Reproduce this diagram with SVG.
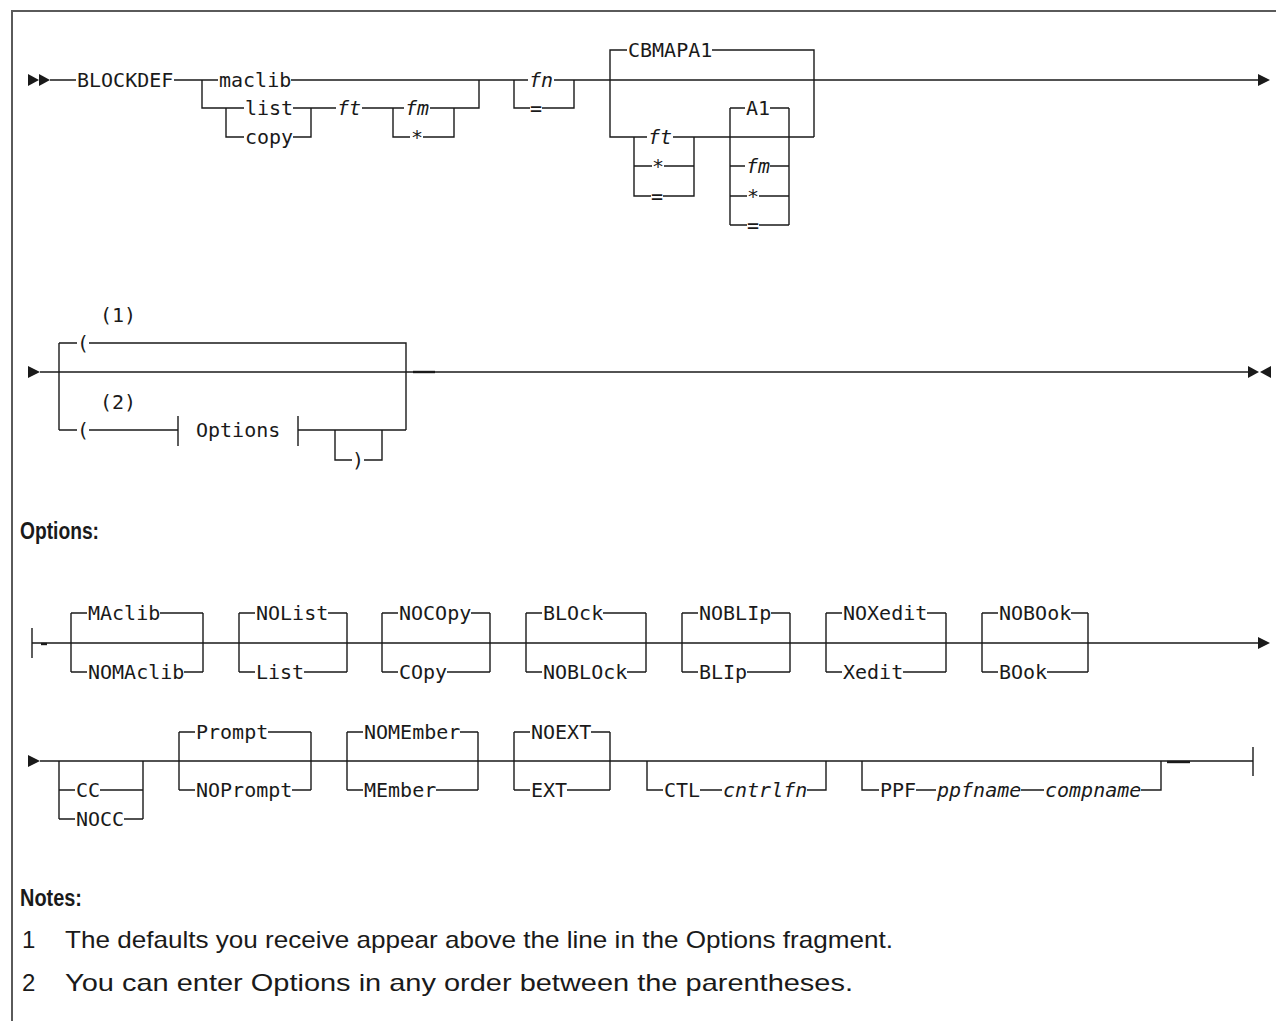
<svg xmlns="http://www.w3.org/2000/svg" width="1276" height="1021" viewBox="0 0 1276 1021">
<style>
.ln{stroke:#1a1a1a;stroke-width:1.4;fill:none}
.dash{stroke:#1a1a1a;stroke-width:2.4;fill:none}
.fr{stroke:#5a5a5a;stroke-width:2;fill:none}
.ar{fill:#1a1a1a}
.t{font-family:"DejaVu Sans Mono","Liberation Mono",monospace;font-size:20px;fill:#1a1a1a}
.i{font-style:italic}
.h{font-family:"Liberation Sans",Arial,sans-serif;font-weight:bold;font-size:23px;fill:#1a1a1a}
.n{font-family:"Liberation Sans",Arial,sans-serif;font-size:24px;fill:#1a1a1a}
</style>
<rect x="0" y="0" width="1276" height="1021" fill="#ffffff"/>
<path class="fr" d="M12 1021 V11 H1276"/>

<g id="connectors">
  <!-- row 1 -->
  <polygon class="ar" points="28,74 39,80 28,86"/>
  <polygon class="ar" points="39,74 50,80 39,86"/>
  <path class="ln" d="M50 80 H76 M174 80 H218 M291 80 H528 M554 80 H1258"/>
  <polygon class="ar" points="1258,74 1270,80 1258,86"/>
  <path class="ln" d="M202 80 V108 H244 M293 108 H336 M362 108 H404 M430 108 H479 V80"/>
  <path class="ln" d="M226 108 V137 H244 M293 137 H311 V108"/>
  <path class="ln" d="M393 108 V137 H410 M423 137 H454 V108"/>
  <path class="ln" d="M514 80 V108 H530 M542 108 H574 V80"/>
  <path class="ln" d="M610 80 V50 H627 M712 50 H814 V137"/>
  <path class="ln" d="M610 80 V137 H647 M673 137 H814"/>
  <path class="ln" d="M634 137 V196 H651 M663 196 H694 V137 M634 166 H652 M664 166 H694"/>
  <path class="ln" d="M730 108 V225 M789 108 V225 M730 108 H745 M770 108 H789 M730 166 H745 M770 166 H789 M730 196 H747 M759 196 H789 M730 225 H747 M759 225 H789"/>
  <!-- row 2 -->
  <polygon class="ar" points="28,366 40,372 28,378"/>
  <path class="ln" d="M40 372 H1248"/>
  <path class="dash" d="M413 372 H435"/>
  <polygon class="ar" points="1248,366 1259,372 1248,378"/>
  <polygon class="ar" points="1271,366 1260,372 1271,378"/>
  <path class="ln" d="M59 343 V430 M59 343 H77 M89 343 H406 V430 M59 430 H77 M89 430 H178 M178 416 V446 M298 416 V446 M298 430 H406"/>
  <path class="ln" d="M335 430 V460 H352 M364 460 H382 V430"/>
  <!-- options row 1 -->
  <path class="ln" d="M32 628 V658 M32 643 H1258"/>
  <path class="dash" d="M41 644 H47"/>
  <polygon class="ar" points="1258,637 1270,643 1258,649"/>
  <path class="ln" d="M71 613 V672 M71 613 H87 M160 613 H203 M71 672 H87 M184 672 H203 M203 613 V672"/>
  <path class="ln" d="M239 613 V672 M239 613 H255 M328 613 H347 M239 672 H255 M304 672 H347 M347 613 V672"/>
  <path class="ln" d="M382 613 V672 M382 613 H398 M471 613 H490 M382 672 H398 M447 672 H490 M490 613 V672"/>
  <path class="ln" d="M526 613 V672 M526 613 H542 M603 613 H646 M526 672 H542 M627 672 H646 M646 613 V672"/>
  <path class="ln" d="M682 613 V672 M682 613 H698 M771 613 H790 M682 672 H698 M747 672 H790 M790 613 V672"/>
  <path class="ln" d="M826 613 V672 M826 613 H842 M927 613 H946 M826 672 H842 M903 672 H946 M946 613 V672"/>
  <path class="ln" d="M982 613 V672 M982 613 H998 M1071 613 H1088 M982 672 H998 M1047 672 H1088 M1088 613 V672"/>
  <!-- options row 2 -->
  <polygon class="ar" points="28,755 40,761 28,767"/>
  <path class="ln" d="M40 761 H1253 M1253 747 V776"/>
  <path class="dash" d="M1167 762 H1190"/>
  <path class="ln" d="M59 761 V819 M59 790 H75 M100 790 H143 M59 819 H75 M124 819 H143 M143 761 V819"/>
  <path class="ln" d="M179 732 V790 M179 732 H195 M268 732 H311 M179 790 H195 M292 790 H311 M311 732 V790"/>
  <path class="ln" d="M347 732 V790 M347 732 H363 M460 732 H478 M347 790 H363 M436 790 H478 M478 732 V790"/>
  <path class="ln" d="M514 732 V790 M514 732 H530 M591 732 H610 M514 790 H530 M567 790 H610 M610 732 V790"/>
  <path class="ln" d="M647 761 V790 H663 M700 790 H722 M807 790 H826 V761"/>
  <path class="ln" d="M862 761 V790 H879 M916 790 H936 M1021 790 H1044 M1141 790 H1161 V761"/>
</g>

<g id="row1">
  <g id="n-blockdef"><text class="t" x="77" y="87">BLOCKDEF</text></g>
  <g id="n-maclib"><text class="t" x="219" y="87">maclib</text></g>
  <g id="n-list"><text class="t" x="245" y="115">list</text></g>
  <g id="n-copy"><text class="t" x="245" y="144">copy</text></g>
  <g id="n-ft1"><text class="t i" x="337" y="115">ft</text></g>
  <g id="n-fm1"><text class="t i" x="405" y="115">fm</text></g>
  <g id="n-star1"><text class="t" x="411" y="144">*</text></g>
  <g id="n-fn"><text class="t i" x="529" y="87">fn</text></g>
  <g id="n-eq1"><text class="t" x="530" y="115">=</text></g>
  <g id="n-cbmapa1"><text class="t" x="628" y="57">CBMAPA1</text></g>
  <g id="n-ft2"><text class="t i" x="648" y="144">ft</text></g>
  <g id="n-star2"><text class="t" x="652" y="173">*</text></g>
  <g id="n-eq2"><text class="t" x="651" y="203">=</text></g>
  <g id="n-a1"><text class="t" x="746" y="115">A1</text></g>
  <g id="n-fm2"><text class="t i" x="746" y="173">fm</text></g>
  <g id="n-star3"><text class="t" x="747" y="203">*</text></g>
  <g id="n-eq3"><text class="t" x="747" y="232">=</text></g>
</g>

<g id="row2">
  <g id="n-note1"><text class="t" x="100" y="322">(1)</text></g>
  <g id="n-paren1"><text class="t" x="77" y="350">(</text></g>
  <g id="n-note2"><text class="t" x="100" y="409">(2)</text></g>
  <g id="n-paren2"><text class="t" x="77" y="437">(</text></g>
  <g id="n-options-ref"><text class="t" x="196" y="437">Options</text></g>
  <g id="n-rparen"><text class="t" x="352" y="467">)</text></g>
</g>

<g id="n-options-heading"><text class="h" x="20" y="539" textLength="79" lengthAdjust="spacingAndGlyphs">Options:</text></g>

<g id="options1">
  <g id="n-maclib2"><text class="t" x="88" y="620">MAclib</text><text class="t" x="88" y="679">NOMAclib</text></g>
  <g id="n-nolist"><text class="t" x="256" y="620">NOList</text><text class="t" x="256" y="679">List</text></g>
  <g id="n-nocopy"><text class="t" x="399" y="620">NOCOpy</text><text class="t" x="399" y="679">COpy</text></g>
  <g id="n-block"><text class="t" x="543" y="620">BLOck</text><text class="t" x="543" y="679">NOBLOck</text></g>
  <g id="n-noblip"><text class="t" x="699" y="620">NOBLIp</text><text class="t" x="699" y="679">BLIp</text></g>
  <g id="n-noxedit"><text class="t" x="843" y="620">NOXedit</text><text class="t" x="843" y="679">Xedit</text></g>
  <g id="n-nobook"><text class="t" x="999" y="620">NOBOok</text><text class="t" x="999" y="679">BOok</text></g>
</g>

<g id="options2">
  <g id="n-cc"><text class="t" x="76" y="797">CC</text><text class="t" x="76" y="826">NOCC</text></g>
  <g id="n-prompt"><text class="t" x="196" y="739">Prompt</text><text class="t" x="196" y="797">NOPrompt</text></g>
  <g id="n-nomember"><text class="t" x="364" y="739">NOMEmber</text><text class="t" x="364" y="797">MEmber</text></g>
  <g id="n-noext"><text class="t" x="531" y="739">NOEXT</text><text class="t" x="531" y="797">EXT</text></g>
  <g id="n-ctl"><text class="t" x="664" y="797">CTL</text><text class="t i" x="723" y="797">cntrlfn</text></g>
  <g id="n-ppf"><text class="t" x="880" y="797">PPF</text><text class="t i" x="937" y="797">ppfname</text><text class="t i" x="1045" y="797">compname</text></g>
</g>

<g id="notes">
  <text class="h" x="20" y="906" textLength="62" lengthAdjust="spacingAndGlyphs">Notes:</text>
  <text class="n" x="22" y="948">1</text>
  <text class="n" x="65" y="948" textLength="828" lengthAdjust="spacingAndGlyphs">The defaults you receive appear above the line in the Options fragment.</text>
  <text class="n" x="22" y="991">2</text>
  <text class="n" x="65" y="991" textLength="788" lengthAdjust="spacingAndGlyphs">You can enter Options in any order between the parentheses.</text>
</g>
</svg>
